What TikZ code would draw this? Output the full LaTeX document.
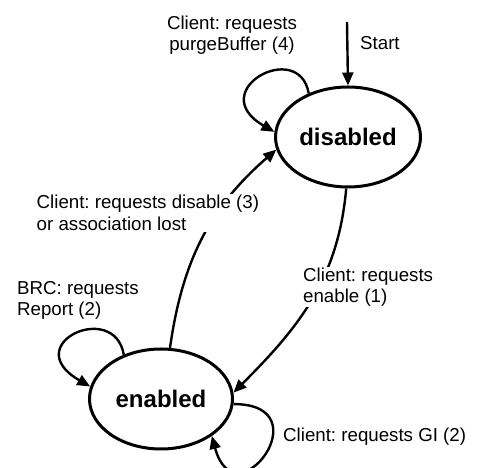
\documentclass[tikz,border=0pt]{standalone}
\usepackage{fontspec}
\setmainfont{Liberation Sans}
\usetikzlibrary{arrows.meta,shapes.geometric}
\frenchspacing
\begin{document}
\begin{tikzpicture}[x=1pt,y=1pt,
  state/.style={ellipse,draw,line width=3pt,inner sep=0pt,font=\fontsize{24}{28}\selectfont\bfseries},
  trans/.style={line width=2.4pt,-{Triangle[length=13pt,width=11pt]}},
  lab/.style={font=\fontsize{18.7}{21.5}\selectfont,fill=white,inner sep=1pt,align=left}]
\useasboundingbox (0,0) rectangle (477,468);
\node[state,minimum width=145pt,minimum height=100pt] (dis) at (348,331) {disabled};
\node[state,minimum width=143pt,minimum height=100pt] (en) at (161,69) {enabled};
\coordinate (s) at (347,446);
\draw[trans] (s) -- (dis.north);
\node[lab,anchor=west] (lstart) at (359,425) {Start};
% disabled self loop
\draw[trans] (dis.132) to[out=100,in=150,out distance=56pt,in distance=82pt] (dis.176);
\node[lab,align=center] (lpurge) at (232,433) {Client: requests\\purgeBuffer (4)};
% enable
\draw[trans] (dis.268) to[out=265,in=45] (en.5);
\node[lab,anchor=west] (lenable) at (302,181) {Client: requests\\enable (1)};
% disable
\draw[trans] (en.80) to[out=82,in=221] (dis.190);
\node[lab,anchor=west] (ldis) at (35.5,255) {Client: requests disable (3)\\or association lost};
% BRC loop
\draw[trans] (en.130) to[out=100,in=150,out distance=56pt,in distance=84pt] (en.170);
\node[lab,anchor=west] (lbrc) at (16,167.5) {BRC: requests\\Report (2)};
% GI loop
\draw[trans] (en.-4) to[out=0,in=-75,distance=90pt] (en.-36.5);
\node[lab,anchor=west] (lgi) at (282,31) {Client: requests GI (2)};
\end{tikzpicture}
\end{document}
